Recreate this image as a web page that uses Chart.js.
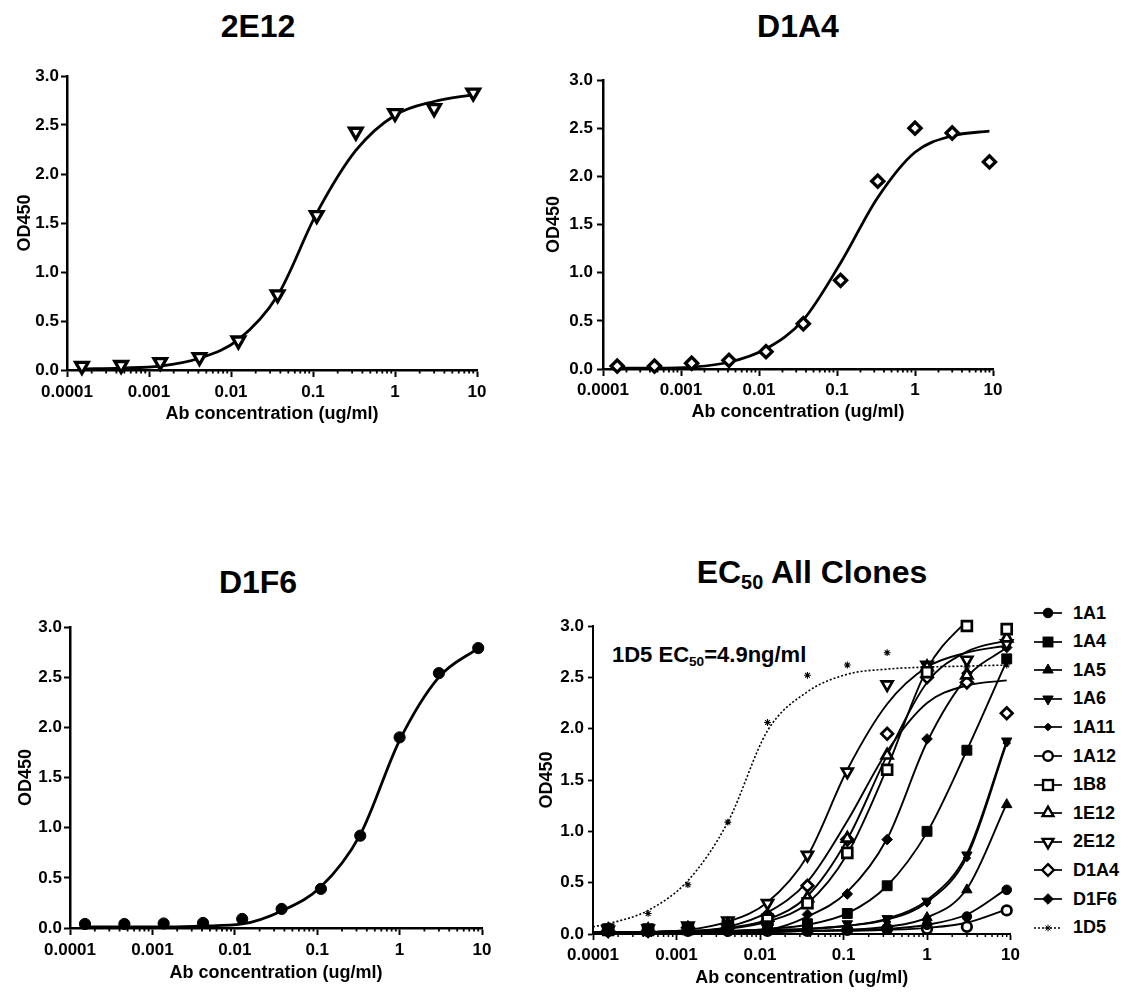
<!DOCTYPE html>
<html>
<head>
<meta charset="utf-8">
<script src="https://cdn.jsdelivr.net/npm/chart.js@4.4.0/dist/chart.umd.min.js"></script>
<style>
  html, body { margin: 0; padding: 0; background: #fff; }
  body { width: 1131px; height: 995px; position: relative; overflow: hidden;
         font-family: "Liberation Sans", Arial, sans-serif; color: #000; }
  canvas { position: absolute; }
  .ptitle { position: absolute; font-weight: bold; font-size: 32px; white-space: nowrap;
            transform: translate(-50%, -50%); line-height: 1; }
  .ptitle sub, .note sub { font-size: 0.62em; vertical-align: -0.32em; line-height: 0; }
  .note { position: absolute; font-weight: bold; font-size: 22px; white-space: nowrap;
          transform: translateY(-50%); line-height: 1; }
  .legend { position: absolute; left: 1033px; top: 0; }
  .legend .row { position: absolute; left: 0; height: 20px; display: flex; align-items: center;
                 transform: translateY(-50%); white-space: nowrap; }
  .legend .row span { font-weight: bold; font-size: 18px; margin-left: 10px; }
</style>
</head>
<body>

<div class="ptitle" style="left:258px; top:26px;">2E12</div>
<div class="ptitle" style="left:798px; top:26px;">D1A4</div>
<div class="ptitle" style="left:258px; top:582px;">D1F6</div>
<div class="ptitle" style="left:812px; top:572px;">EC<sub>50</sub> All Clones</div>
<div class="note" style="left:612px; top:655px;">1D5 EC<sub>50</sub>=4.9ng/ml</div>

<canvas id="c1" width="500" height="365" style="left:0px; top:60px;"></canvas>
<canvas id="c2" width="475" height="359" style="left:535px; top:64px;"></canvas>
<canvas id="c3" width="500" height="373" style="left:0px; top:611px;"></canvas>
<canvas id="c4" width="495" height="379" style="left:530px; top:610px;"></canvas>
<div class="legend" id="legend"></div>

<script>
// ---------------- DATA ----------------
const concentrations = [0.000152, 0.000457, 0.00137, 0.00412, 0.0123, 0.037, 0.111, 0.333, 1, 3, 9];
const curveConcentrations = [0.0001, 0.000152, 0.000457, 0.00137, 0.00412, 0.0123, 0.037, 0.111, 0.333, 1, 3, 9];
const xTickLabels = ['0.0001', '0.001', '0.01', '0.1', '1', '10'];
const yTickLabels = ['0.0', '0.5', '1.0', '1.5', '2.0', '2.5', '3.0'];
const xAxisTitle = 'Ab concentration (ug/ml)';
const yAxisTitle = 'OD450';
const cloneNames = ['1A1', '1A4', '1A5', '1A6', '1A11', '1A12', '1B8', '1E12', '2E12', 'D1A4', 'D1F6', '1D5'];

// measured OD450 at each concentration
const od1A1  = [0.03, 0.03, 0.03, 0.03, 0.03, 0.04, 0.05, 0.06, 0.09, 0.17, 0.43];
const od1A4  = [0.05, 0.05, 0.06, 0.07, 0.08, 0.10, 0.20, 0.47, 1.00, 1.79, 2.68];
const od1A5  = [0.04, 0.04, 0.04, 0.04, 0.04, 0.05, 0.06, 0.09, 0.16, 0.43, 1.26];
const od1A6  = [0.04, 0.04, 0.04, 0.05, 0.06, 0.07, 0.10, 0.15, 0.32, 0.77, 1.88];
const od1A11 = [0.03, 0.03, 0.04, 0.04, 0.05, 0.06, 0.08, 0.12, 0.30, 0.74, 1.86];
const od1A12 = [0.03, 0.03, 0.03, 0.03, 0.03, 0.03, 0.04, 0.05, 0.05, 0.07, 0.23];
const od1B8  = [0.04, 0.04, 0.05, 0.08, 0.14, 0.30, 0.79, 1.60, 2.55, 3.00, 2.97];
const od1E12 = [0.04, 0.04, 0.05, 0.09, 0.16, 0.35, 0.93, 1.74, 2.60, 2.52, 2.88];
const od2E12 = [0.04, 0.05, 0.08, 0.13, 0.30, 0.77, 1.58, 2.43, 2.62, 2.67, 2.83];
const odD1A4 = [0.03, 0.03, 0.06, 0.09, 0.18, 0.47, 0.92, 1.95, 2.50, 2.45, 2.15];
const odD1F6 = [0.04, 0.04, 0.045, 0.05, 0.09, 0.19, 0.39, 0.92, 1.90, 2.54, 2.79];
const od1D5  = [0.05, 0.20, 0.48, 1.09, 2.06, 2.52, 2.62, 2.74, 2.62, 2.60, 2.62];

// fitted curve heights at curveConcentrations
const fit1A1  = [0.02, 0.02, 0.02, 0.02, 0.02, 0.02, 0.03, 0.04, 0.05, 0.09, 0.19, 0.44];
const fit1A4  = [0.02, 0.02, 0.02, 0.03, 0.03, 0.05, 0.09, 0.20, 0.47, 0.99, 1.79, 2.66];
const fit1A5  = [0.02, 0.02, 0.02, 0.02, 0.02, 0.03, 0.03, 0.04, 0.07, 0.16, 0.44, 1.27];
const fit1A6  = [0.02, 0.02, 0.02, 0.03, 0.03, 0.04, 0.05, 0.08, 0.15, 0.33, 0.78, 1.88];
const fit1A11 = [0.02, 0.02, 0.02, 0.03, 0.03, 0.04, 0.05, 0.08, 0.14, 0.31, 0.75, 1.86];
const fit1A12 = [0.02, 0.02, 0.02, 0.02, 0.02, 0.02, 0.03, 0.03, 0.04, 0.06, 0.11, 0.24];
const fit1B8  = [0.02, 0.02, 0.02, 0.03, 0.05, 0.12, 0.30, 0.78, 1.62, 2.58, 3.05, 3.40];
const fit1E12 = [0.02, 0.02, 0.02, 0.03, 0.06, 0.14, 0.37, 0.92, 1.74, 2.45, 2.75, 2.86];
const fit2E12 = [0.01, 0.01, 0.02, 0.04, 0.12, 0.31, 0.76, 1.60, 2.24, 2.60, 2.74, 2.81];
const fitD1A4 = [0.01, 0.01, 0.01, 0.02, 0.07, 0.21, 0.51, 1.10, 1.78, 2.25, 2.42, 2.47];
const fitD1F6 = [0.01, 0.01, 0.01, 0.01, 0.02, 0.04, 0.17, 0.41, 0.93, 1.87, 2.50, 2.79];
const fit1D5  = [0.07, 0.10, 0.23, 0.52, 1.09, 1.98, 2.36, 2.53, 2.58, 2.60, 2.61, 2.62];

const odByClone  = [od1A1, od1A4, od1A5, od1A6, od1A11, od1A12, od1B8, od1E12, od2E12, odD1A4, odD1F6, od1D5];
const fitByClone = [fit1A1, fit1A4, fit1A5, fit1A6, fit1A11, fit1A12, fit1B8, fit1E12, fit2E12, fitD1A4, fitD1F6, fit1D5];

// ---------------- STYLES ----------------
const cloneStyles = {
  '1A1':  { shape: 'circle',   fill: true,  r: 4.8 },
  '1A4':  { shape: 'rect',     fill: true,  r: 7 },
  '1A5':  { shape: 'triangle', fill: true,  r: 6 },
  '1A6':  { shape: 'triangle', fill: true,  r: 6, rot: 180 },
  '1A11': { shape: 'rectRot',  fill: true,  r: 3.8 },
  '1A12': { shape: 'circle',   fill: false, r: 4.8 },
  '1B8':  { shape: 'rect',     fill: false, r: 7 },
  '1E12': { shape: 'triangle', fill: false, r: 6.3 },
  '2E12': { shape: 'triangle', fill: false, r: 6.3, rot: 180 },
  'D1A4': { shape: 'rectRot',  fill: false, r: 5.8 },
  'D1F6': { shape: 'rectRot',  fill: true,  r: 5.3 },
  '1D5':  { shape: 'star',     fill: false, r: 3.4, dash: [2, 2] }
};

const FONT = '"Liberation Sans", Arial, sans-serif';
Chart.defaults.font.family = FONT;
Chart.defaults.font.weight = 'bold';
Chart.defaults.color = '#000';

const pts = (xs, ys) => xs.map((x, i) => ({ x: x, y: ys[i] }));

const minorTicks = {
  id: 'minorTicks',
  afterDraw(chart, args, opts) {
    const s = chart.scales.x, ctx = chart.ctx;
    ctx.save();
    ctx.strokeStyle = '#000';
    ctx.lineWidth = opts.width || 1.5;
    s.ticks.forEach(t => {
      if (!t.decade) {
        const px = s.getPixelForValue(t.value);
        ctx.beginPath();
        ctx.moveTo(px, s.top);
        ctx.lineTo(px, s.top + (opts.length || 3.5));
        ctx.stroke();
      }
    });
    ctx.restore();
  }
};

function makeOptions(o) {
  return {
    responsive: false,
    animation: false,
    events: [],
    layout: { padding: { top: o.padTop, right: o.padRight, left: 0, bottom: 0 } },
    plugins: { legend: { display: false }, tooltip: { enabled: false }, minorTicks: { length: o.minorLen, width: o.minorW } },
    scales: {
      x: {
        type: 'logarithmic', min: 0.0001, max: 10,
        afterBuildTicks(s) {
          const t = [];
          for (let e = -4; e <= 1; e++) {
            for (let k = 1; k <= 9; k++) {
              if (e === 1 && k > 1) break;
              t.push({ value: Number((k * Math.pow(10, e)).toPrecision(4)), decade: k === 1 });
            }
          }
          s.ticks = t;
        },
        afterFit(s) { s.height = o.hx; },
        ticks: {
          autoSkip: false, maxRotation: 0, minRotation: 0, padding: o.xpad,
          font: { size: o.tickSize, weight: 'bold' }, color: '#000',
          callback(v, i, ticks) {
            const t = ticks[i];
            return t.decade ? xTickLabels[Math.round(Math.log10(t.value)) + 4] : '';
          }
        },
        grid: {
          drawOnChartArea: false, drawTicks: true, tickLength: o.majorLen, tickWidth: o.tickW,
          tickColor: c => (c.tick && c.tick.decade) ? '#000' : 'rgba(0,0,0,0)'
        },
        border: { display: true, color: '#000', width: o.axisW },
        title: { display: true, text: xAxisTitle, color: '#000',
                 font: { size: o.titleSize, weight: 'bold' }, padding: { top: 0, bottom: 0 } }
      },
      y: {
        type: 'linear', min: 0, max: 3,
        afterBuildTicks(s) { s.ticks = yTickLabels.map(l => ({ value: parseFloat(l) })); },
        afterFit(s) { s.width = o.wy; },
        ticks: { padding: o.ypad, font: { size: o.tickSize, weight: 'bold' }, color: '#000',
                 callback: (v, i) => yTickLabels[i] },
        grid: { drawOnChartArea: false, drawTicks: true, tickLength: o.yTickLen, tickWidth: o.tickW, tickColor: '#000' },
        border: { display: true, color: '#000', width: o.axisW },
        title: { display: true, text: yAxisTitle, color: '#000',
                 font: { size: o.titleSize, weight: 'bold' }, padding: { top: o.ytitlePad, bottom: 0 } }
      }
    }
  };
}

function curveDataset(xs, ys, width, dash) {
  return {
    data: pts(xs, ys), showLine: true, pointRadius: 0, pointHoverRadius: 0,
    borderColor: '#000', borderWidth: width, borderDash: dash || [],
    cubicInterpolationMode: 'monotone', fill: false, order: 2,
    clip: { left: 2, right: 2, top: 0, bottom: 4 }
  };
}
function pointDataset(xs, ys, st, openBorder, filledBorder, scale) {
  const sc = scale || 1;
  return {
    data: pts(xs, ys), showLine: false,
    pointStyle: st.shape, pointRotation: st.rot || 0, pointRadius: st.r * sc, pointHoverRadius: st.r * sc,
    pointBackgroundColor: st.fill ? '#000' : '#fff', pointBorderColor: '#000',
    pointBorderWidth: st.shape === 'star' ? 1.1 : (st.fill ? filledBorder : openBorder),
    borderColor: '#000', order: 1, clip: false
  };
}

const singleCfg = { tickSize: 17, titleSize: 18, axisW: 2.5, tickW: 2, majorLen: 7, yTickLen: 6, minorLen: 3.5, minorW: 1.8 };

// Panel 1 : 2E12
new Chart(document.getElementById('c1'), {
  type: 'line',
  data: { datasets: [
    pointDataset(concentrations, od2E12, cloneStyles['2E12'], 3.3, 1, 1.15),
    curveDataset(concentrations, fit2E12.slice(1), 2.8)
  ] },
  options: makeOptions(Object.assign({}, singleCfg, { padTop: 16, padRight: 23, wy: 67, hx: 55, xpad: 5, ypad: 2, ytitlePad: 14 })),
  plugins: [minorTicks]
});

// Panel 2 : D1A4
new Chart(document.getElementById('c2'), {
  type: 'line',
  data: { datasets: [
    pointDataset(concentrations, odD1A4, cloneStyles['D1A4'], 3.3, 1, 1.05),
    curveDataset(concentrations, fitD1A4.slice(1), 2.8)
  ] },
  options: makeOptions(Object.assign({}, singleCfg, { padTop: 16, padRight: 17, wy: 68, hx: 54, xpad: 4, ypad: 4, ytitlePad: 8 })),
  plugins: [minorTicks]
});

// Panel 3 : D1F6 (filled circles)
new Chart(document.getElementById('c3'), {
  type: 'line',
  data: { datasets: [
    pointDataset(concentrations, odD1F6, { shape: 'circle', fill: true, r: 5.6 }, 3, 1, 1),
    curveDataset(concentrations, fitD1F6.slice(1), 2.8)
  ] },
  options: makeOptions(Object.assign({}, singleCfg, { padTop: 16, padRight: 18, wy: 70, hx: 56, xpad: 5, ypad: 2, ytitlePad: 15 })),
  plugins: [minorTicks]
});

// Panel 4 : all clones
const allSets = [];
cloneNames.forEach((name, i) => {
  const st = cloneStyles[name];
  allSets.push(curveDataset(curveConcentrations, fitByClone[i], st.dash ? 1.6 : 1.9, st.dash));
  allSets.push(pointDataset(concentrations, odByClone[i], st, 2.7, 1, 1));
});
new Chart(document.getElementById('c4'), {
  type: 'line',
  data: { datasets: allSets },
  options: makeOptions({ tickSize: 17, titleSize: 18, axisW: 2, tickW: 1.8, majorLen: 6, yTickLen: 5, minorLen: 3, minorW: 1.5,
                         padTop: 16, padRight: 13, wy: 63, hx: 55, xpad: 5, ypad: 4, ytitlePad: 6 }),
  plugins: [minorTicks]
});

// Legend for panel 4
function legendIcon(st) {
  const cx = 15, cy = 10, r = st.r;
  const fill = st.fill ? '#000' : '#fff';
  const sw = st.fill ? 1 : 2.4;
  let m = '';
  if (st.shape === 'circle') {
    m = `<circle cx="${cx}" cy="${cy}" r="${r}" fill="${fill}" stroke="#000" stroke-width="${sw}"/>`;
  } else if (st.shape === 'rect') {
    const h = r * Math.SQRT1_2;
    m = `<rect x="${cx - h}" y="${cy - h}" width="${2 * h}" height="${2 * h}" fill="${fill}" stroke="#000" stroke-width="${sw}"/>`;
  } else if (st.shape === 'triangle') {
    const p = [0, 120, 240].map(a => {
      const t = (a + (st.rot || 0)) * Math.PI / 180;
      return `${cx + Math.sin(t) * r},${cy - Math.cos(t) * r}`;
    }).join(' ');
    m = `<polygon points="${p}" fill="${fill}" stroke="#000" stroke-width="${sw}"/>`;
  } else if (st.shape === 'rectRot') {
    m = `<polygon points="${cx},${cy - r} ${cx + r},${cy} ${cx},${cy + r} ${cx - r},${cy}" fill="${fill}" stroke="#000" stroke-width="${sw}"/>`;
  } else if (st.shape === 'star') {
    const d = r * Math.SQRT1_2;
    m = `<g stroke="#000" stroke-width="1"><line x1="${cx - r}" y1="${cy}" x2="${cx + r}" y2="${cy}"/><line x1="${cx}" y1="${cy - r}" x2="${cx}" y2="${cy + r}"/>` +
        `<line x1="${cx - d}" y1="${cy - d}" x2="${cx + d}" y2="${cy + d}"/><line x1="${cx - d}" y1="${cy + d}" x2="${cx + d}" y2="${cy - d}"/></g>`;
  }
  const line = `<line x1="1" y1="${cy}" x2="29" y2="${cy}" stroke="#000" stroke-width="1.7" ${st.dash ? 'stroke-dasharray="2,2"' : ''}/>`;
  return `<svg width="30" height="20" viewBox="0 0 30 20">${line}${m}</svg>`;
}
const legend = document.getElementById('legend');
cloneNames.forEach((name, i) => {
  const row = document.createElement('div');
  row.className = 'row';
  row.style.top = (613 + i * 28.6) + 'px';
  row.innerHTML = legendIcon(cloneStyles[name]) + `<span>${name}</span>`;
  legend.appendChild(row);
});
</script>
</body>
</html>
